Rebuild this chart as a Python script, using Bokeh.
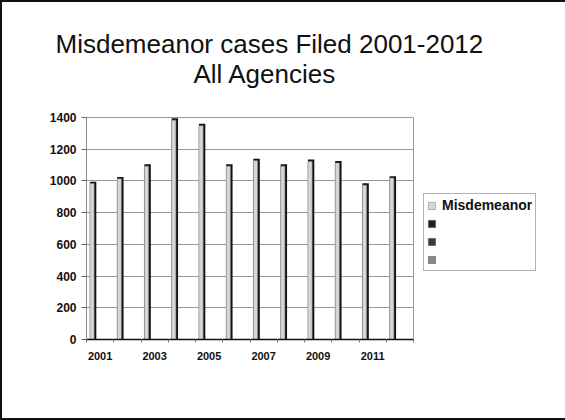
from bokeh.plotting import figure
from bokeh.models import (Range1d, FixedTicker, Title, Legend, LegendItem, ColumnDataSource)
from bokeh.embed import file_html
from bokeh.resources import INLINE

nan = float("nan")

# ---- data ----
years = ["2001", "2002", "2003", "2004", "2005", "2006",
         "2007", "2008", "2009", "2010", "2011", "2012"]
misdemeanor = [995, 1025, 1105, 1395, 1360, 1105, 1140, 1105, 1135, 1125, 985, 1030]
series2 = [nan] * 12   # empty series (legend only)
series3 = [nan] * 12
series4 = [nan] * 12
series_names = ["Misdemeanor", " ", "  ", "   "]
series_colors = ["#d6d6d6", "#1e1e1e", "#3a3a3a", "#8a8a8a"]
y_ticks = [0, 200, 400, 600, 800, 1000, 1200, 1400]
title_line1 = "Misdemeanor cases Filed 2001-2012"
title_line2 = "All Agencies"

FONT = "Liberation Sans"

n = len(years)
idx = list(range(n))
light_left = [i + 0.125 for i in idx]
light_right = [i + 0.28 for i in idx]
dark_right = [i + 0.36 for i in idx]

p = figure(frame_width=327, frame_height=222, output_backend="svg", toolbar_location=None,
           title=None,
           x_range=Range1d(0, n), y_range=Range1d(0, 1400),
           min_border_left=84, min_border_right=150,
           min_border_top=115, min_border_bottom=79)
p.styles = {"border": "2px solid #111111"}
p.background_fill_color = "white"
p.border_fill_color = "white"
p.outline_line_color = "#999999"
p.outline_line_width = 1

src = ColumnDataSource(dict(ll=light_left, lr=light_right, dr=dark_right,
                            v=misdemeanor, vt=[v - 12 for v in misdemeanor]))
# dark shadow side (3D look)
p.quad(left="ll", right="dr", bottom=0, top="v", source=src,
       fill_color="#111111", line_color=None)
# light face
main = p.quad(left="ll", right="lr", bottom=0, top="vt", source=src,
              fill_color=series_colors[0], line_color="#888888", line_width=0.6)

# empty series (only visible in legend)
empty_renderers = []
for k, (vals, c) in enumerate(zip([series2, series3, series4], series_colors[1:])):
    s = ColumnDataSource(dict(l=[i + 0.36 + 0.18 * k for i in idx],
                              r=[i + 0.54 + 0.18 * k for i in idx], t=vals))
    r = p.quad(left="l", right="r", bottom=0, top="t", source=s,
               fill_color=c, line_color="#555555", line_width=0.6)
    empty_renderers.append(r)

# axes
p.xaxis.ticker = FixedTicker(ticks=[i + 0.5 for i in idx[::2]], minor_ticks=list(range(n + 1)))
p.xaxis.major_label_overrides = {i + 0.5: years[i] for i in idx[::2]}
p.xaxis.major_tick_line_color = None
p.xaxis.minor_tick_out = 3
p.xaxis.minor_tick_in = 0
p.xaxis.minor_tick_line_color = "#777777"
p.xaxis.axis_line_color = "#111111"
p.xaxis.axis_line_width = 1.5
p.xaxis.major_label_text_font = FONT
p.xaxis.major_label_text_font_style = "bold"
p.xaxis.major_label_text_font_size = "11px"
p.xaxis.major_label_text_color = "#111111"
p.xaxis.major_label_standoff = 6

p.yaxis.ticker = FixedTicker(ticks=y_ticks)
p.yaxis.minor_tick_line_color = None
p.yaxis.major_tick_out = 5
p.yaxis.major_tick_in = 0
p.yaxis.major_tick_line_color = "#666666"
p.yaxis.axis_line_color = "#888888"
p.yaxis.major_label_text_font = FONT
p.yaxis.major_label_text_font_style = "bold"
p.yaxis.major_label_text_font_size = "12px"
p.yaxis.major_label_text_color = "#111111"
p.yaxis.major_label_standoff = 5

p.xgrid.grid_line_color = None
p.ygrid.grid_line_color = "#999999"
p.ygrid.grid_line_width = 1

# title lines (first added sits closest to the plot)
t2 = Title(text=title_line2, align="left", text_font=FONT, text_font_size="26px",
           text_font_style="normal", text_color="#111111", standoff=57, offset=107)
t1 = Title(text=title_line1, align="left", text_font=FONT, text_font_size="26px",
           text_font_style="normal", text_color="#111111", standoff=-61, offset=-31)
p.add_layout(t2, "above")
p.add_layout(t1, "above")

# legend
items = [LegendItem(label=series_names[0], renderers=[main])]
for name, r in zip(series_names[1:], empty_renderers):
    items.append(LegendItem(label=name, renderers=[r]))
legend = Legend(items=items, location=(10, 68), orientation="vertical")
legend.label_text_font = FONT
legend.label_text_font_style = "bold"
legend.label_text_font_size = "14px"
legend.label_text_color = "#111111"
legend.glyph_width = 9
legend.glyph_height = 9
legend.label_height = 15
legend.spacing = 3
legend.padding = 3
legend.margin = 0
legend.label_standoff = 6
legend.border_line_color = "#666666"
legend.border_line_width = 1
legend.background_fill_color = "white"
p.add_layout(legend, "right")

open("out.html", "w").write(file_html(p, INLINE))
